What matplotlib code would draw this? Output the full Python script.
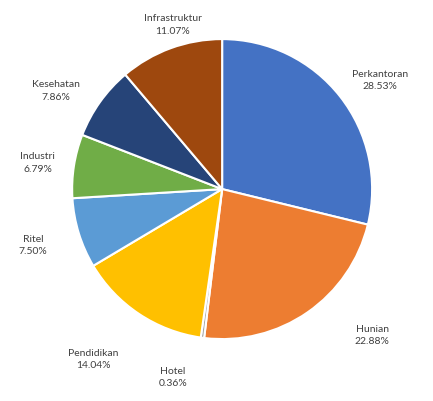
import matplotlib.pyplot as plt

# Sektor dan persentase
labels = ['Perkantoran', 'Hunian', 'Hotel', 'Pendidikan', 'Ritel',
          'Industri', 'Kesehatan', 'Infrastruktur']
values = [28.53, 22.88, 0.36, 14.04, 7.50, 6.79, 7.86, 11.07]
colors = ['#4472C4', '#ED7D31', '#A5A5A5', '#FFC000', '#5B9BD5',
          '#70AD47', '#264478', '#9E480E']

# posisi label (koordinat pie, radius = 1)
label_pos = [(1.05, 0.73), (1.0, -0.97), (-0.33, -1.25), (-0.86, -1.13),
             (-1.26, -0.37), (-1.23, 0.18), (-1.11, 0.66), (-0.33, 1.10)]

plt.rcParams['font.family'] = ['Lato', 'DejaVu Sans']

fig = plt.figure(figsize=(4.33, 4.02), dpi=100)
ax = fig.add_axes([0.513 - 0.3464, 0.527 - 0.373, 0.6928, 0.7463])

wedges, _ = ax.pie(values, colors=colors, startangle=90, counterclock=False,
                   wedgeprops=dict(edgecolor='white', linewidth=1.5))
for l, v, (x, y) in zip(labels, values, label_pos):
    ax.text(x, y, '{}\n{:.2f}%'.format(l, v), fontsize=7.5, color='#404040',
            ha='center', va='center', linespacing=1.5, clip_on=False)
ax.set_xlim(-1, 1)
ax.set_ylim(-1, 1)
ax.set_aspect('equal')

fig.savefig('out.png', dpi=100)
